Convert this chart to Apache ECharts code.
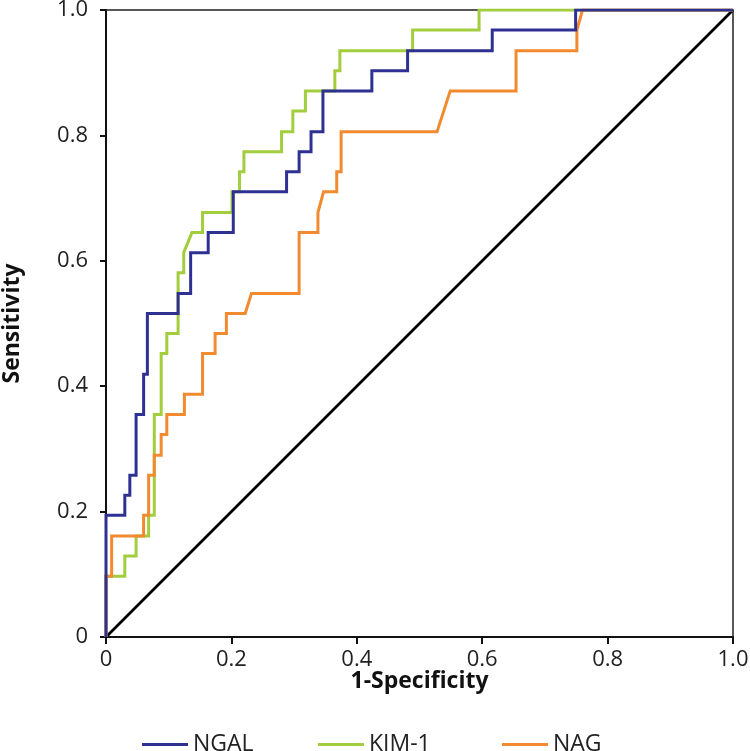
<!DOCTYPE html>
<html>
<head>
<meta charset="utf-8">
<script src="https://cdn.jsdelivr.net/npm/echarts@6/dist/echarts.min.js"></script>
<style>
html,body{margin:0;padding:0;background:#fff;}
#chart{width:750px;height:751px;}
</style>
</head>
<body>
<div id="chart"></div>
<script>
// ---- data (1-Specificity, Sensitivity) ----
const xTicks = ['0', '0.2', '0.4', '0.6', '0.8', '1.0'];
const yTicks = ['0', '0.2', '0.4', '0.6', '0.8', '1.0'];
const seriesNames = ['NGAL', 'KIM-1', 'NAG'];

const ngalFpr = [0, 0, 0.030, 0.030, 0.038, 0.038, 0.048, 0.048, 0.060, 0.060, 0.066, 0.066, 0.115, 0.115, 0.135, 0.135, 0.163, 0.163, 0.203, 0.203, 0.288, 0.288, 0.308, 0.308, 0.327, 0.327, 0.346, 0.346, 0.424, 0.424, 0.481, 0.481, 0.616, 0.616, 0.749, 0.749, 1];
const ngalTpr = [0, 0.194, 0.194, 0.226, 0.226, 0.258, 0.258, 0.355, 0.355, 0.419, 0.419, 0.516, 0.516, 0.548, 0.548, 0.613, 0.613, 0.645, 0.645, 0.710, 0.710, 0.742, 0.742, 0.774, 0.774, 0.806, 0.806, 0.871, 0.871, 0.903, 0.903, 0.935, 0.935, 0.968, 0.968, 1, 1];

const kimFpr = [0, 0, 0.030, 0.030, 0.048, 0.048, 0.068, 0.068, 0.077, 0.077, 0.088, 0.088, 0.097, 0.097, 0.115, 0.115, 0.124, 0.124, 0.137, 0.154, 0.154, 0.201, 0.201, 0.213, 0.213, 0.220, 0.220, 0.280, 0.280, 0.298, 0.298, 0.318, 0.318, 0.365, 0.365, 0.373, 0.373, 0.489, 0.489, 0.595, 0.595, 1];
const kimTpr = [0, 0.097, 0.097, 0.129, 0.129, 0.161, 0.161, 0.194, 0.194, 0.355, 0.355, 0.452, 0.452, 0.484, 0.484, 0.581, 0.581, 0.613, 0.645, 0.645, 0.677, 0.677, 0.710, 0.710, 0.742, 0.742, 0.774, 0.774, 0.806, 0.806, 0.839, 0.839, 0.871, 0.871, 0.903, 0.903, 0.935, 0.935, 0.968, 0.968, 1, 1];

const nagFpr = [0, 0, 0.009, 0.009, 0.060, 0.060, 0.068, 0.068, 0.077, 0.077, 0.088, 0.088, 0.097, 0.097, 0.125, 0.125, 0.154, 0.154, 0.174, 0.174, 0.192, 0.192, 0.222, 0.232, 0.308, 0.308, 0.338, 0.338, 0.347, 0.368, 0.368, 0.375, 0.375, 0.528, 0.549, 0.654, 0.654, 0.751, 0.751, 0.760, 1];
const nagTpr = [0, 0.097, 0.097, 0.161, 0.161, 0.194, 0.194, 0.258, 0.258, 0.290, 0.290, 0.323, 0.323, 0.355, 0.355, 0.387, 0.387, 0.452, 0.452, 0.484, 0.484, 0.516, 0.516, 0.548, 0.548, 0.645, 0.645, 0.677, 0.710, 0.710, 0.742, 0.742, 0.806, 0.806, 0.871, 0.871, 0.935, 0.935, 0.968, 1, 1];

const refFpr = [0, 1];
const refTpr = [0, 1];

function zip(a, b) { return a.map((v, i) => [v, b[i]]); }

const colors = { 'NGAL': '#2e3192', 'KIM-1': '#a2cd3c', 'NAG': '#f28a30' };
const FONT = 'Open Sans';

const chart = echarts.init(document.getElementById('chart'), null, { renderer: 'canvas' });

function lineSeries(name, fpr, tpr, z) {
  return {
    name: name, type: 'line', data: zip(fpr, tpr), showSymbol: false, symbol: 'none',
    lineStyle: { color: colors[name], width: 3, join: 'miter' }, itemStyle: { color: colors[name] },
    z: z, animation: false
  };
}

function legendAt(name, left) {
  return {
    data: [name], left: left, top: 728, icon: 'rect', itemWidth: 46, itemHeight: 3, itemGap: 0,
    textStyle: { fontFamily: FONT, fontSize: 23, color: '#222', padding: [0, 0, 0, 0] }
  };
}

chart.setOption({
  animation: false,
  backgroundColor: '#fff',
  grid: { left: 106, right: 17, top: 10, bottom: 114, show: true, borderColor: '#222', borderWidth: 1.5, backgroundColor: 'transparent', containLabel: false, outerBoundsMode: 'none' },
  legend: [legendAt('NGAL', 137), legendAt('KIM-1', 313), legendAt('NAG', 497)],
  xAxis: {
    type: 'value', min: 0, max: 1, interval: 0.2,
    name: '1-Specificity', nameLocation: 'middle', nameGap: 33, nameMoveOverlap: false,
    nameTextStyle: { fontFamily: FONT, fontSize: 23, fontWeight: 'bold', color: '#111' },
    axisLine: { show: true, lineStyle: { color: '#111', width: 2 } },
    axisTick: { show: true, inside: false, length: 7, lineStyle: { color: '#111', width: 2 } },
    axisLabel: { fontFamily: FONT, fontSize: 22, color: '#222', margin: 12, formatter: (v) => xTicks[Math.round(v / 0.2)] },
    splitLine: { show: false }
  },
  yAxis: {
    type: 'value', min: 0, max: 1, interval: 0.2,
    name: 'Sensitivity', nameLocation: 'middle', nameGap: 82, nameRotate: 90, nameMoveOverlap: false,
    nameTextStyle: { fontFamily: FONT, fontSize: 23, fontWeight: 'bold', color: '#111' },
    axisLine: { show: true, lineStyle: { color: '#111', width: 2 } },
    axisTick: { show: true, inside: false, length: 6, lineStyle: { color: '#111', width: 2 } },
    axisLabel: { fontFamily: FONT, fontSize: 22, color: '#222', margin: 18, formatter: (v) => yTicks[Math.round(v / 0.2)] },
    splitLine: { show: false }
  },
  series: [
    { name: 'ref', type: 'line', data: zip(refFpr, refTpr), showSymbol: false, symbol: 'none', lineStyle: { color: '#000', width: 2.8 }, z: 1, silent: true },
    lineSeries('KIM-1', kimFpr, kimTpr, 2),
    lineSeries('NAG', nagFpr, nagTpr, 3),
    lineSeries('NGAL', ngalFpr, ngalTpr, 4)
  ]
});
</script>
</body>
</html>
